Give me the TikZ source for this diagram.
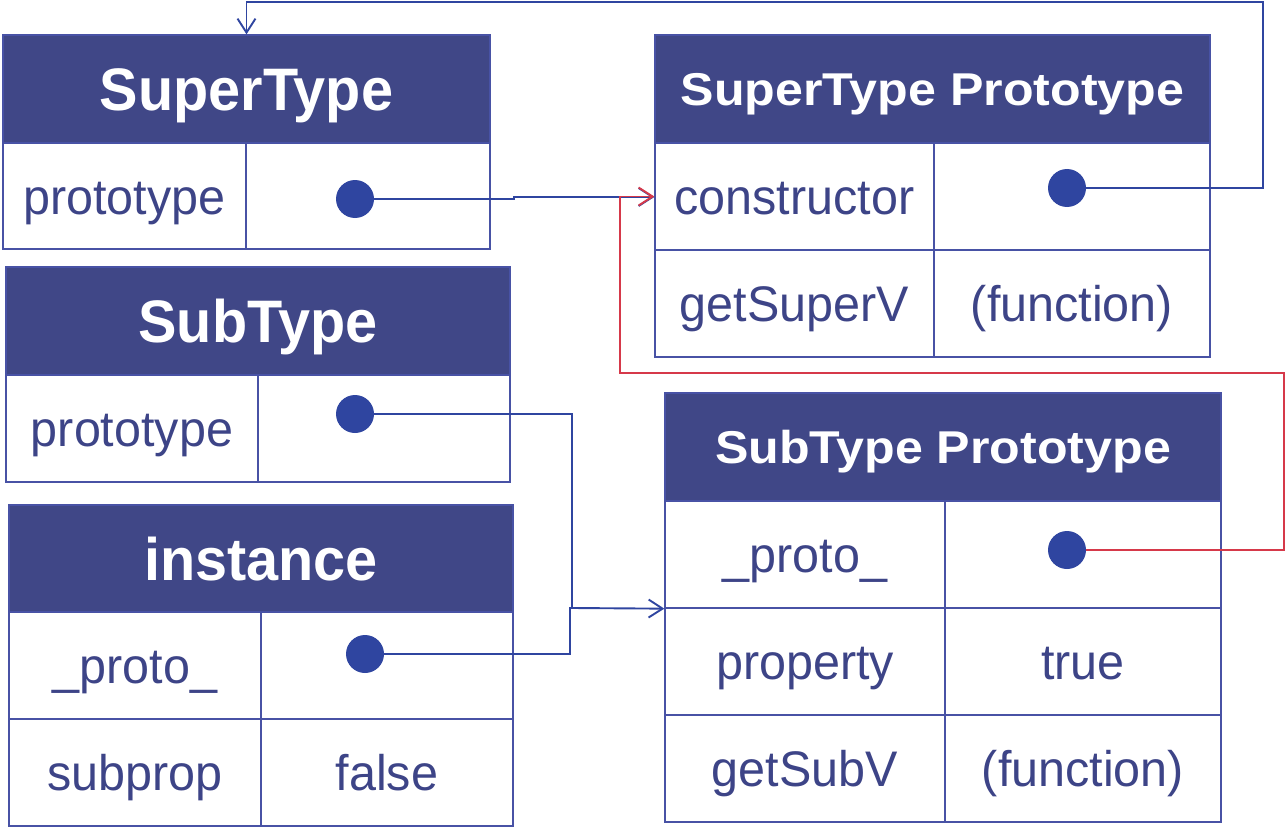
\documentclass[tikz,border=0pt]{standalone}
\usepackage{fontspec}
\setmainfont{Liberation Sans}
\usetikzlibrary{arrows.meta}
\definecolor{hdrc}{RGB}{64,71,135}
\definecolor{linec}{RGB}{72,82,165}
\definecolor{txtc}{RGB}{61,68,135}
\definecolor{dotc}{RGB}{47,69,160}
\definecolor{redc}{RGB}{214,57,74}
\newcommand{\bigh}[1]{\scalebox{0.96}[1]{#1}}
\newcommand{\smallh}[1]{\scalebox{1.09}[1]{#1}}
\newcommand{\cellt}[1]{\scalebox{0.97}[1]{#1}}
\begin{document}
\begin{tikzpicture}[x=1pt,y=-1pt,
 box/.style={draw=linec, line width=1.3pt, inner sep=0pt, text=txtc, font=\fontsize{50}{54}\selectfont, text height=36pt, text depth=0pt},
 hdr/.style={box, fill=hdrc, text=white, font=\fontsize{60}{64}\selectfont\bfseries, text height=43pt},
 hdrs/.style={hdr, font=\fontsize{46}{50}\selectfont\bfseries, text height=33pt},
 dotn/.style={circle, fill=dotc, minimum size=38pt, inner sep=0pt, text height=, text depth=},
 wire/.style={draw=dotc, line width=1.9pt},
 tip/.style={-{Straight Barb[length=14pt,width=18pt,line width=1.9pt]}}]
\useasboundingbox (0,0) rectangle (1288,832);
% SuperType
\node[hdr, minimum width=487pt, minimum height=108pt] (st) at (246.5,89) {\bigh{SuperType}};
\node[box, minimum width=243pt, minimum height=106pt] (stl) at (124.5,196) {\cellt{prototype}};
\node[box, minimum width=244pt, minimum height=106pt] (str) at (368,196) {};
% SuperType Prototype
\node[hdrs, minimum width=555pt, minimum height=108pt] (sp) at (932.5,89) {\smallh{SuperType Prototype}};
\node[box, minimum width=279pt, minimum height=107pt] (spc) at (794.5,196.5) {\cellt{constructor}};
\node[box, minimum width=276pt, minimum height=107pt] (spcv) at (1072,196.5) {};
\node[box, minimum width=279pt, minimum height=107pt] (spg) at (794.5,303.5) {\cellt{getSuperV}};
\node[box, minimum width=276pt, minimum height=107pt] (spgv) at (1072,303.5) {\cellt{(function)}};
% SubType
\node[hdr, minimum width=504pt, minimum height=108pt] (sb) at (258,321) {\bigh{SubType}};
\node[box, minimum width=252pt, minimum height=107pt] (sbl) at (132,428.5) {\cellt{prototype}};
\node[box, minimum width=252pt, minimum height=107pt] (sbr) at (384,428.5) {};
% instance
\node[hdr, minimum width=504pt, minimum height=107pt] (in) at (261,558.5) {\bigh{instance}};
\node[box, minimum width=252pt, minimum height=107pt] (inp) at (135,665.5) {\cellt{\_proto\_}};
\node[box, minimum width=252pt, minimum height=107pt] (inpv) at (387,665.5) {};
\node[box, minimum width=252pt, minimum height=107pt] (ins) at (135,772.5) {\cellt{subprop}};
\node[box, minimum width=252pt, minimum height=107pt] (insv) at (387,772.5) {\cellt{false}};
% SubType Prototype
\node[hdrs, minimum width=556pt, minimum height=108pt] (bp) at (943,447) {\smallh{SubType Prototype}};
\node[box, minimum width=280pt, minimum height=107pt] (bpp) at (805,554.5) {\cellt{\_proto\_}};
\node[box, minimum width=276pt, minimum height=107pt] (bppv) at (1083,554.5) {};
\node[box, minimum width=280pt, minimum height=107pt] (bpr) at (805,661.5) {\cellt{property}};
\node[box, minimum width=276pt, minimum height=107pt] (bprv) at (1083,661.5) {\cellt{true}};
\node[box, minimum width=280pt, minimum height=107pt] (bpg) at (805,768.5) {\cellt{getSubV}};
\node[box, minimum width=276pt, minimum height=107pt] (bpgv) at (1083,768.5) {\cellt{(function)}};
% dots
\node[dotn] (d1) at (355,199) {};
\node[dotn] (d2) at (1067,188) {};
\node[dotn] (d3) at (355,414) {};
\node[dotn] (d4) at (365,654) {};
\node[dotn] (d5) at (1067,550) {};
% connectors
\coordinate (c1a) at (514,199);
\coordinate (c1b) at (514,197);
\coordinate (c2a) at (1263,2);
\coordinate (c3a) at (572,608);
\coordinate (c4a) at (570,608);
\coordinate (r1) at (1284,373);
\coordinate (r2) at (620,373);
\coordinate (r3) at (620,196.5);
\draw[wire, tip] (d1.east) -- (c1a) -- (c1b) -- (c1b -| spc.west);
\draw[wire, tip] (d2.east) -| (c2a) -| (st.north);
\draw[wire, tip] (d3.east) -| (c3a) -- (bpp.south west);
\draw[wire] (d4.east) -| (c4a) -- (c3a);
\draw[wire, draw=redc, tip] (d5.east) -| (r1) -- (r2) -- (r3) -- (spc.west);
\end{tikzpicture}
\end{document}
